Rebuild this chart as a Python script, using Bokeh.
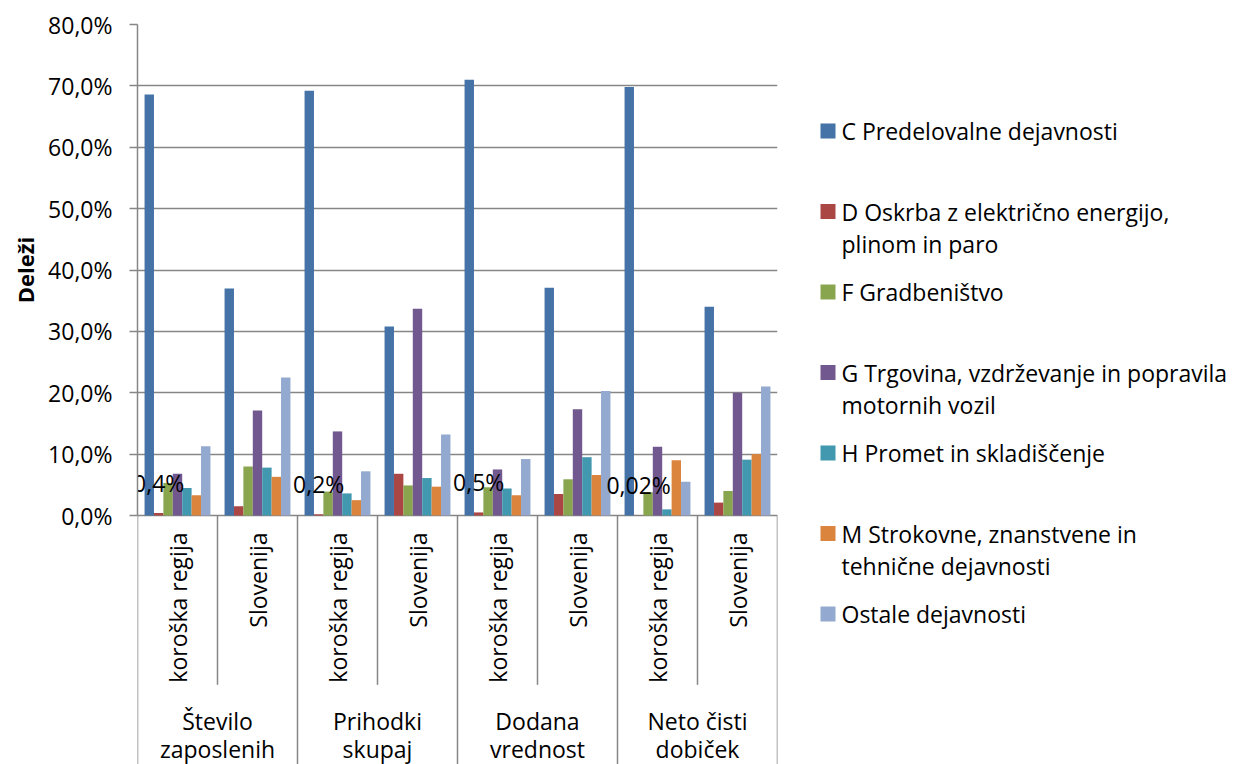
import math
from bokeh.plotting import figure
from bokeh.layouts import row
from bokeh.models import Range1d, FixedTicker, ColumnDataSource
from bokeh.core.properties import value
from bokeh.embed import file_html
from bokeh.resources import INLINE

# ---------------- data ----------------
groups = ["Število\nzaposlenih", "Prihodki\nskupaj", "Dodana\nvrednost", "Neto čisti\ndobiček"]
regions = ["koroška regija", "Slovenija"]
series_names = [
    "C Predelovalne dejavnosti",
    "D Oskrba z električno energijo,\nplinom in paro",
    "F Gradbeništvo",
    "G Trgovina, vzdrževanje in popravila\nmotornih vozil",
    "H Promet in skladiščenje",
    "M Strokovne, znanstvene in\ntehnične dejavnosti",
    "Ostale dejavnosti",
]
colors = ["#4572A7", "#AA4643", "#89A54E", "#71588F", "#4198AF", "#DB843D", "#93A9CF"]

# values in %, order: zap-kor, zap-slo, pri-kor, pri-slo, dod-kor, dod-slo, neto-kor, neto-slo
C_vals = [68.6, 37.0, 69.2, 30.8, 71.0, 37.1, 69.8, 34.0]
D_vals = [0.4, 1.5, 0.2, 6.8, 0.5, 3.5, 0.02, 2.1]
F_vals = [5.3, 8.0, 3.9, 4.9, 4.6, 5.9, 3.8, 4.0]
G_vals = [6.8, 17.1, 13.7, 33.7, 7.5, 17.3, 11.2, 20.0]
H_vals = [4.5, 7.8, 3.6, 6.1, 4.4, 9.5, 1.0, 9.1]
M_vals = [3.3, 6.3, 2.5, 4.7, 3.3, 6.6, 9.0, 10.0]
O_vals = [11.3, 22.5, 7.2, 13.2, 9.2, 20.3, 5.5, 21.0]
all_series = [C_vals, D_vals, F_vals, G_vals, H_vals, M_vals, O_vals]

y_ticks = [0, 10, 20, 30, 40, 50, 60, 70, 80]
y_tick_labels = ["0,0%", "10,0%", "20,0%", "30,0%", "40,0%", "50,0%", "60,0%", "70,0%", "80,0%"]
y_title = "Deleži"

# ---------------- layout constants ----------------
FONT = "Open Sans"
GRID = "#868686"
TOTAL_H = 764
TOP_B = 24
TITLE_W = 45
Y_TOP = 80.0
PX = 491.0 / 80.0            # pixels per 1 %
FRAME_H = TOTAL_H - TOP_B
Y_BOTTOM = Y_TOP - FRAME_H / PX
SHORT_SEP = -169.3 / PX
SUBLABEL_Y = -17.0 / PX
GROUP_LINE_Y = [-205.0 / PX, -233.0 / PX]
n_cat = len(groups) * len(regions)
n_ser = len(all_series)
bar_w = 1.0 / (n_ser + 1.5)

# ---------------- y-axis title panel (pixel-like coordinates) ----------------
tp = figure(width=TITLE_W, height=TOTAL_H, x_range=Range1d(0, TITLE_W), y_range=Range1d(TOTAL_H, TOP_B),
            output_backend="svg", toolbar_location=None, x_axis_location=None, y_axis_location=None,
            min_border_left=0, min_border_right=0, min_border_top=TOP_B, min_border_bottom=0)
tp.outline_line_color = None
tp.background_fill_color = None
tp.border_fill_color = None
tp.grid.grid_line_color = None
tp.text(x=[24], y=[269.5], text=[y_title], angle=math.pi / 2, text_font=value(FONT),
        text_font_size="22px", text_font_style="bold", text_align="center",
        text_baseline="middle", text_color="#000000")

# ---------------- main chart ----------------
p = figure(width=790 - TITLE_W, height=TOTAL_H, x_range=Range1d(0, n_cat), y_range=Range1d(Y_BOTTOM, Y_TOP),
           output_backend="svg", toolbar_location=None, x_axis_location=None,
           min_border_left=137 - TITLE_W, min_border_right=13, min_border_top=TOP_B, min_border_bottom=0)
p.outline_line_color = None
p.background_fill_color = None
p.border_fill_color = None
p.xgrid.visible = False
p.ygrid.ticker = FixedTicker(ticks=y_ticks)
p.ygrid.grid_line_color = GRID
p.ygrid.grid_line_width = 1.5

ax = p.yaxis[0]
ax.ticker = FixedTicker(ticks=y_ticks)
ax.bounds = (0, 80)
ax.major_label_overrides = {t: l for t, l in zip(y_ticks, y_tick_labels)}
ax.axis_line_color = GRID
ax.axis_line_width = 1.5
ax.major_tick_line_color = GRID
ax.major_tick_line_width = 1.5
ax.major_tick_out = 8
ax.major_tick_in = 0
ax.minor_tick_line_color = None
ax.major_label_text_font = FONT
ax.major_label_text_font_size = "23px"
ax.major_label_text_color = "#000000"
ax.major_label_standoff = 17

# bars
for j, (vals, col) in enumerate(zip(all_series, colors)):
    xs = [k + 0.5 + (j - (n_ser - 1) / 2) * bar_w for k in range(n_cat)]
    src = ColumnDataSource(dict(x=xs, top=vals))
    p.vbar(x="x", top="top", bottom=0, width=bar_w, source=src, fill_color=col, line_color=None)

# data labels for D series in koroška regija
lab_idx = [k for k in range(n_cat) if k % 2 == 0]
lab_x = [k + 0.5 + (1 - (n_ser - 1) / 2) * bar_w for k in lab_idx]
lab_y = [D_vals[k] for k in lab_idx]
lab_t = [("%g" % D_vals[k]).replace(".", ",") + "%" for k in lab_idx]
p.text(x=lab_x, y=lab_y, text=lab_t, text_font=value(FONT), text_font_size="23px",
       text_align="center", text_baseline="middle", y_offset=-30.5, text_color="#000000")

# category separators
sep_x = list(range(n_cat + 1))
sep_y1 = [Y_BOTTOM if b % 2 == 0 else SHORT_SEP for b in sep_x]
p.segment(x0=sep_x, y0=[0] * len(sep_x), x1=sep_x, y1=sep_y1, line_color=GRID, line_width=1.5)

# sub-category labels (rotated)
p.text(x=[k + 0.5 for k in range(n_cat)], y=[SUBLABEL_Y] * n_cat,
       text=[regions[k % 2] for k in range(n_cat)], angle=math.pi / 2,
       text_font=value(FONT), text_font_size="23px", text_align="right",
       text_baseline="middle", text_color="#000000")

# group labels (two lines each)
gx, gy, gt = [], [], []
for g, name in enumerate(groups):
    for li, line in enumerate(name.split("\n")):
        gx.append(2 * g + 1)
        gy.append(GROUP_LINE_Y[li])
        gt.append(line)
p.text(x=gx, y=gy, text=gt, text_font=value(FONT), text_font_size="23px", text_align="center",
       text_baseline="middle", text_color="#000000")

# ---------------- legend (drawn in pixel-like coordinates) ----------------
LEG_X0 = 790
lg = figure(width=444, height=TOTAL_H, x_range=Range1d(LEG_X0, LEG_X0 + 444),
            y_range=Range1d(TOTAL_H, TOP_B),
            output_backend="svg", toolbar_location=None, x_axis_location=None, y_axis_location=None,
            min_border_left=0, min_border_right=0, min_border_top=TOP_B, min_border_bottom=0)
lg.outline_line_color = None
lg.background_fill_color = None
lg.border_fill_color = None
lg.grid.grid_line_color = None

LEG_Y0 = 130.5
LEG_STEP = 80.5
LEG_LINE = 32
sq_y = [LEG_Y0 + i * LEG_STEP for i in range(n_ser)]
lg.rect(x=[827.5] * n_ser, y=sq_y, width=15, height=15, fill_color=colors, line_color=None)
tx, ty, tt = [], [], []
for i, name in enumerate(series_names):
    for li, line in enumerate(name.split("\n")):
        tx.append(841)
        ty.append(sq_y[i] + li * LEG_LINE)
        tt.append(line)
lg.text(x=tx, y=ty, text=tt, text_font=value(FONT), text_font_size="23px",
        text_align="left", text_baseline="middle", text_color="#000000")

layout = row(tp, p, lg)
open("out.html", "w").write(file_html(layout, INLINE))
